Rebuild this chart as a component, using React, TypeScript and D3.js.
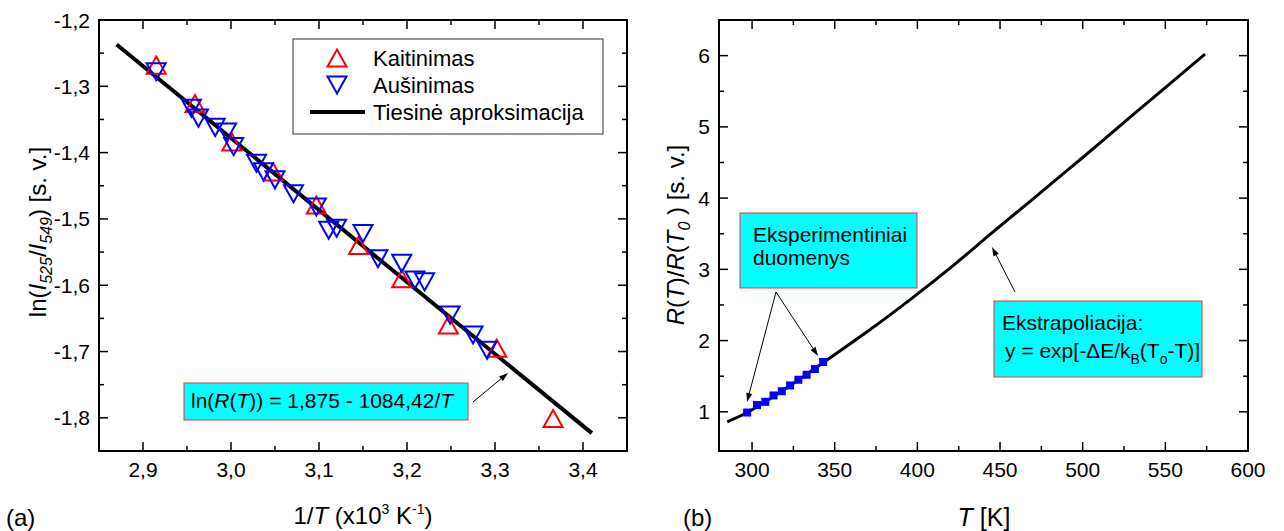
import React from "react";
import * as d3 from "d3";

// ---------- Data: panel (a) ----------
const heatX = [2.915, 2.959, 3.001, 3.048, 3.097, 3.145, 3.194, 3.247, 3.302, 3.366];
const heatY = [-1.268, -1.326, -1.384, -1.429, -1.479, -1.54, -1.59, -1.66, -1.695, -1.801];
const coolX = [2.915, 2.955, 2.963, 2.982, 2.995, 3.003, 3.029, 3.037, 3.05, 3.071, 3.097, 3.111, 3.12, 3.15, 3.167, 3.194, 3.209, 3.22, 3.249, 3.275, 3.291];
const coolY = [-1.278, -1.333, -1.348, -1.362, -1.369, -1.391, -1.416, -1.429, -1.441, -1.462, -1.482, -1.517, -1.514, -1.522, -1.56, -1.567, -1.592, -1.595, -1.645, -1.675, -1.698];
const fitX = [2.87, 3.41];
const fitY = [-1.237, -1.823];
const aTicksX = [2.9, 3.0, 3.1, 3.2, 3.3, 3.4];
const aMinorX = [2.95, 3.05, 3.15, 3.25, 3.35];
const aTicksY = [-1.2, -1.3, -1.4, -1.5, -1.6, -1.7, -1.8];
const aMinorY = [-1.25, -1.35, -1.45, -1.55, -1.65, -1.75];

// ---------- Data: panel (b) ----------
const expT = [297, 303, 308, 313, 318, 323, 328, 333, 338, 343];
const expR = [0.99, 1.095, 1.14, 1.23, 1.29, 1.37, 1.45, 1.52, 1.6, 1.7];
const extT = [285, 297, 320, 343, 370, 397, 422, 444, 470, 500, 530, 555, 574];
const extR = [0.86, 0.99, 1.32, 1.69, 2.13, 2.6, 3.06, 3.49, 3.99, 4.57, 5.16, 5.65, 6.02];
const bTicksX = [300, 350, 400, 450, 500, 550, 600];
const bMinorX = [325, 375, 425, 475, 525, 575];
const bTicksY = [1, 2, 3, 4, 5, 6];
const bMinorY = [1.5, 2.5, 3.5, 4.5, 5.5];

const FONT = "Arial, 'Liberation Sans', sans-serif";
const fmt = (v: number) => d3.format(".1f")(v).replace("−", "-").replace(".", ",");

const xa = d3.scaleLinear().domain([2.85, 3.45]).range([99, 627]);
const ya = d3.scaleLinear().domain([-1.85, -1.2]).range([451, 20]);
const xb = d3.scaleLinear().domain([280, 600]).range([719, 1248]);
const yb = d3.scaleLinear().domain([0.45, 6.5]).range([451, 20]);

function triUp(cx: number, cy: number, s: number) {
  const h = s * 0.9;
  return `M${cx},${cy - h / 2}L${cx + s / 2},${cy + h / 2}L${cx - s / 2},${cy + h / 2}Z`;
}
function triDown(cx: number, cy: number, s: number) {
  const h = s * 0.9;
  return `M${cx},${cy + h / 2}L${cx + s / 2},${cy - h / 2}L${cx - s / 2},${cy - h / 2}Z`;
}

function Frame({ x, y, tx, mx, ty, my, labelX, labelY }: any) {
  const [x0, x1] = x.range();
  const [y0, y1] = y.range();
  const maj = 9, min = 5;
  return (
    <g>
      {tx.map((t: number, i: number) => (
        <g key={"tx" + i}>
          <line x1={x(t)} x2={x(t)} y1={y0} y2={y0 - maj} stroke="#000" strokeWidth={1.5} />
          <line x1={x(t)} x2={x(t)} y1={y1} y2={y1 + maj} stroke="#000" strokeWidth={1.5} />
          <text x={x(t)} y={477} textAnchor="middle" fontSize={21} fontFamily={FONT}>{labelX(t)}</text>
        </g>
      ))}
      {mx.map((t: number, i: number) => (
        <g key={"mx" + i}>
          <line x1={x(t)} x2={x(t)} y1={y0} y2={y0 - min} stroke="#000" strokeWidth={1.5} />
          <line x1={x(t)} x2={x(t)} y1={y1} y2={y1 + min} stroke="#000" strokeWidth={1.5} />
        </g>
      ))}
      {ty.map((t: number, i: number) => (
        <g key={"ty" + i}>
          <line x1={x0} x2={x0 + maj} y1={y(t)} y2={y(t)} stroke="#000" strokeWidth={1.5} />
          <line x1={x1} x2={x1 - maj} y1={y(t)} y2={y(t)} stroke="#000" strokeWidth={1.5} />
          <text x={x0 - 9} y={y(t) + 7.5} textAnchor="end" fontSize={21} fontFamily={FONT}>{labelY(t)}</text>
        </g>
      ))}
      {my.map((t: number, i: number) => (
        <g key={"my" + i}>
          <line x1={x0} x2={x0 + min} y1={y(t)} y2={y(t)} stroke="#000" strokeWidth={1.5} />
          <line x1={x1} x2={x1 - min} y1={y(t)} y2={y(t)} stroke="#000" strokeWidth={1.5} />
        </g>
      ))}
      <rect x={x0} y={y1} width={x1 - x0} height={y0 - y1} fill="none" stroke="#000" strokeWidth={2} />
    </g>
  );
}

function Arrow({ x1, y1, x2, y2 }: any) {
  const a = Math.atan2(y2 - y1, x2 - x1);
  const L = 9, W = 3;
  const bx = x2 - L * Math.cos(a), by = y2 - L * Math.sin(a);
  const p = `M${x2},${y2}L${bx + W * Math.sin(a)},${by - W * Math.cos(a)}L${bx - W * Math.sin(a)},${by + W * Math.cos(a)}Z`;
  return (
    <g>
      <line x1={x1} y1={y1} x2={bx} y2={by} stroke="#000" strokeWidth={1} />
      <path d={p} fill="#000" />
    </g>
  );
}

export default function App() {
  const fitLine = d3.line<number>().x((_, i) => xa(fitX[i])).y((d) => ya(d))(fitY) || "";
  const extLine = d3.line<number>().x((_, i) => xb(extT[i])).y((d) => yb(d)).curve(d3.curveCatmullRom)(extR) || "";
  return (
    <svg width={1284} height={531} style={{ position: "absolute", left: 0, top: 0, background: "#fff" }}>
      <rect width={1284} height={531} fill="#fff" />
      {/* Panel (a) */}
      <Frame x={xa} y={ya} tx={aTicksX} mx={aMinorX} ty={aTicksY} my={aMinorY} labelX={fmt} labelY={fmt} />
      <path d={fitLine} stroke="#000" strokeWidth={4} fill="none" />
      {heatX.map((v, i) => (
        <path key={"h" + i} d={triUp(xa(v), ya(heatY[i]), 19)} fill="none" stroke="#ff0000" strokeWidth={2} />
      ))}
      {coolX.map((v, i) => (
        <path key={"c" + i} d={triDown(xa(v), ya(coolY[i]), 19)} fill="none" stroke="#0000ff" strokeWidth={2} />
      ))}
      {/* legend */}
      <rect x={293} y={39} width={310} height={95} fill="#fff" stroke="#333" strokeWidth={1} />
      <path d={triUp(337, 58, 19)} fill="none" stroke="#ff0000" strokeWidth={2} />
      <text x={373} y={66} fontSize={22} fontFamily={FONT}>Kaitinimas</text>
      <path d={triDown(337, 85, 19)} fill="none" stroke="#0000ff" strokeWidth={2} />
      <text x={373} y={93} fontSize={22} fontFamily={FONT}>Aušinimas</text>
      <line x1={310} x2={365} y1={112} y2={112} stroke="#000" strokeWidth={4} />
      <text x={373} y={120} fontSize={22} fontFamily={FONT}>Tiesinė aproksimacija</text>
      {/* equation box */}
      <rect x={184} y={383} width={284} height={37} fill="#00ffff" stroke="#ff3030" strokeWidth={1} />
      <text x={191} y={408} fontSize={21} fontFamily={FONT}>
        ln(<tspan fontStyle="italic">R</tspan>(<tspan fontStyle="italic">T</tspan>)) = 1,875 - 1084,42/<tspan fontStyle="italic">T</tspan>
      </text>
      <Arrow x1={473} y1={402} x2={508} y2={373} />
      {/* axis titles (a) */}
      <text x={363} y={524} textAnchor="middle" fontSize={24} fontFamily={FONT}>
        1/<tspan fontStyle="italic">T</tspan> (x10<tspan fontSize={14} dy={-10}>3</tspan><tspan dy={10}> K</tspan><tspan fontSize={14} dy={-10}>-1</tspan><tspan dy={10}>)</tspan>
      </text>
      <text transform="translate(46,232) rotate(-90)" textAnchor="middle" fontSize={24} fontFamily={FONT}>
        ln(<tspan fontStyle="italic">I</tspan><tspan fontSize={16} dy={6} fontStyle="italic">525</tspan><tspan dy={-6}>/</tspan><tspan fontStyle="italic">I</tspan><tspan fontSize={16} dy={6} fontStyle="italic">549</tspan><tspan dy={-6}>) [s. v.]</tspan>
      </text>
      <text x={6} y={526} fontSize={24} fontFamily={FONT}>(a)</text>

      {/* Panel (b) */}
      <Frame x={xb} y={yb} tx={bTicksX} mx={bMinorX} ty={bTicksY} my={bMinorY} labelX={(v: number) => String(v)} labelY={(v: number) => String(v)} />
      <path d={extLine} stroke="#000" strokeWidth={3} fill="none" />
      {expT.map((v, i) => (
        <rect key={"e" + i} x={xb(v) - 4} y={yb(expR[i]) - 4} width={8} height={8} fill="#0000ff" />
      ))}
      <rect x={740} y={213} width={177} height={75} fill="#00ffff" stroke="#ff3030" strokeWidth={1} />
      <text x={753} y={242} fontSize={21} fontFamily={FONT}>Eksperimentiniai</text>
      <text x={753} y={265} fontSize={21} fontFamily={FONT}>duomenys</text>
      <Arrow x1={776} y1={292} x2={747} y2={402} />
      <Arrow x1={776} y1={292} x2={818} y2={356} />
      <rect x={994} y={301} width={208} height={76} fill="#00ffff" stroke="#ff3030" strokeWidth={1} />
      <text x={1002} y={330} fontSize={21} fontFamily={FONT}>Ekstrapoliacija:</text>
      <text x={1005} y={358} fontSize={21} fontFamily={FONT}>
        y = exp[-ΔE/k<tspan fontSize={14} dy={6}>B</tspan><tspan dy={-6}>(T</tspan><tspan fontSize={14} dy={6}>o</tspan><tspan dy={-6}>-T)]</tspan>
      </text>
      <Arrow x1={1015} y1={292} x2={992} y2={247} />
      <text x={984} y={526} textAnchor="middle" fontSize={25} fontFamily={FONT}>
        <tspan fontStyle="italic">T</tspan> [K]
      </text>
      <text transform="translate(684,235) rotate(-90)" textAnchor="middle" fontSize={24} fontFamily={FONT}>
        <tspan fontStyle="italic">R</tspan>(<tspan fontStyle="italic">T</tspan>)/<tspan fontStyle="italic">R</tspan>(<tspan fontStyle="italic">T</tspan><tspan fontSize={16} dy={6} fontStyle="italic">0</tspan><tspan dy={-6}> ) [s. v.]</tspan>
      </text>
      <text x={683} y={526} fontSize={24} fontFamily={FONT}>(b)</text>
    </svg>
  );
}
